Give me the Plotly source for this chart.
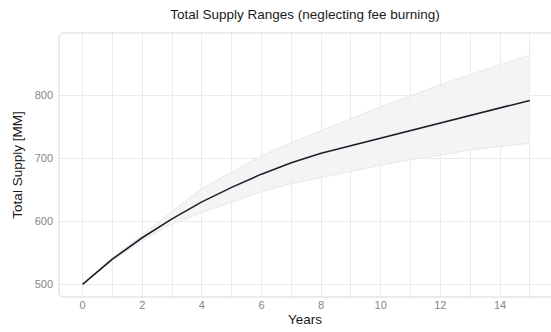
import plotly.graph_objects as go

# Projected total supply (millions) by year, with the high/low range
years = list(range(0, 16))
supply_mid = [500, 540, 574, 604, 631, 654, 675, 693, 708, 720, 733, 745, 757, 769, 781, 792]
supply_high = [500, 543, 579, 615, 652, 678, 704, 725, 744, 763, 782, 799, 817, 833, 848, 864]
supply_low = [500, 538, 569, 596, 614, 631, 647, 660, 670, 680, 689, 698, 706, 713, 719, 724]

x_ticks = [0, 2, 4, 6, 8, 10, 12, 14]
y_ticks = [500, 600, 700, 800]

FONT = "Liberation Sans, Arial, sans-serif"
GRID = "#ebebeb"

fig = go.Figure()

# Range band: low edge, then high edge filled down to it
fig.add_trace(go.Scatter(
    x=years, y=supply_low, mode="lines",
    line=dict(color="#ebe6e9", width=1),
    hoverinfo="skip", showlegend=False,
))
fig.add_trace(go.Scatter(
    x=years, y=supply_high, mode="lines",
    line=dict(color="#ebe6e9", width=1),
    fill="tonexty", fillcolor="rgba(244,241,243,0.85)",
    hoverinfo="skip", showlegend=False,
))
# Central estimate
fig.add_trace(go.Scatter(
    x=years, y=supply_mid, mode="lines",
    line=dict(color="#1b1f2b", width=1.6),
    showlegend=False,
))

# Plot frame with rounded left corners
W = 551 - 59
H = 297 - 33
rx = 5 / W
ry = 5 / H
frame_path = (
    f"M 1.05,1 L {rx},1 Q 0,1 0,{1 - ry} L 0,{ry} Q 0,0 {rx},0 L 1.05,0"
)
fig.add_shape(type="path", path=frame_path, xref="paper", yref="paper",
              line=dict(color="#d6d6d6", width=1), layer="above")

fig.update_layout(
    width=551, height=332,
    margin=dict(l=59, r=0, t=33, b=35),
    paper_bgcolor="white", plot_bgcolor="white",
    font=dict(family=FONT, color="#222"),
    title=dict(
        text="Total Supply Ranges (neglecting fee burning)",
        xref="paper", x=0.5, xanchor="center", y=0.957, yanchor="middle",
        font=dict(size=13.5, color="#1a1a1a", family=FONT),
    ),
)

fig.update_xaxes(
    range=[-0.79, 15.71],
    tickvals=x_ticks, ticktext=[str(v) for v in x_ticks],
    showgrid=True, gridcolor=GRID, gridwidth=1,
    minor=dict(dtick=1, tick0=0, showgrid=True, gridcolor=GRID, gridwidth=1),
    zeroline=False, showline=False, ticks="",
    tickfont=dict(size=11, color="#858585", family=FONT),
    title=dict(text="Years", font=dict(size=13.5, color="#1a1a1a", family=FONT), standoff=4),
)
fig.update_yaxes(
    range=[480, 899],
    tickvals=y_ticks, ticktext=[str(v) for v in y_ticks],
    showgrid=True, gridcolor=GRID, gridwidth=1,
    zeroline=False, showline=False, ticks="",
    ticklabelstandoff=5,
    tickfont=dict(size=11, color="#858585", family=FONT),
    title=dict(text="Total Supply [MM]", font=dict(size=13.5, color="#1a1a1a", family=FONT), standoff=8),
)

fig.write_html("out.html")
